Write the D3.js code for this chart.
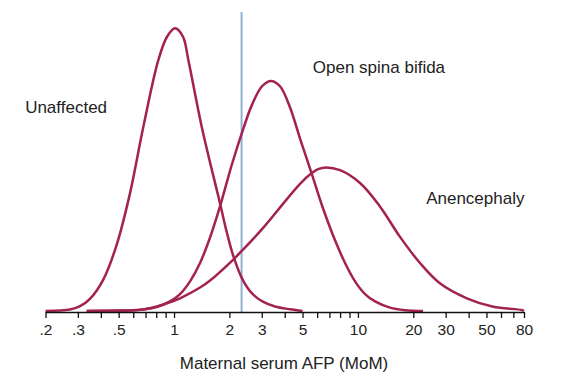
<!DOCTYPE html>
<html lang="en">
<head>
  <meta charset="UTF-8">
  <title>Maternal serum AFP</title>
  <script src="https://d3js.org/d3.v7.min.js"></script>
  <style>
    body { margin: 0; background: #fff; }
    text { font-family: "Liberation Sans", Arial, sans-serif; fill: #222; }
  </style>
</head>
<body>
<script>
  // Distribution curves: [MoM, relative height]
  const unaffected = [
    [0.2, 0], [0.272, 0.5], [0.308, 1.7], [0.349, 4.3], [0.413, 11.2], [0.488, 23.5],
    [0.576, 41.6], [0.681, 65.2], [0.822, 88.8], [0.916, 97], [1.013, 100],
    [1.119, 97], [1.196, 88.8], [1.414, 65.2], [1.778, 38.1], [1.942, 27.5],
    [2.1, 19.5], [2.364, 11], [2.656, 6.2], [3.06, 3.2], [3.541, 1.6], [4.274, 0.6],
    [5, 0]
  ];
  const spinaBifida = [
    [0.335, 0], [0.5085, 0.15], [0.653, 0.4], [0.805, 1.4], [0.951, 3.4], [1.078, 6],
    [1.222, 10.5], [1.385, 17], [1.57, 26], [1.778, 37], [2.067, 52], [2.382, 64.5],
    [2.656, 73], [3.01, 79.5], [3.37, 81.4], [3.77, 79.5], [4.274, 72], [4.844, 61],
    [5.61, 48.5], [6.485, 36], [7.508, 25], [8.51, 17], [9.643, 10.5], [10.93, 6],
    [12.39, 3.4], [14.95, 1.2], [18.04, 0.3], [22.6, 0]
  ];
  const anencephaly = [
    [0.335, 0], [0.653, 0.4], [0.74, 1], [0.913, 2.7], [1.078, 4.5], [1.385, 8.3],
    [1.57, 10.8], [2.1, 18.2], [2.38, 21.8], [3.06, 29.5], [4.1, 39.5], [4.844, 45],
    [5.61, 48.8], [6.067, 50.2], [6.71, 50.8], [8.0, 49.8], [10.3, 45.2], [13.2, 36.9],
    [16.9, 26.3], [21.8, 16.9], [27.9, 9.8], [39.1, 4.5], [54.5, 1.5], [77.6, 0.35],
    [80, 0]
  ];
  const cutoff = 2.33;

  const tickValues = [0.2, 0.3, 0.4, 0.5, 0.6, 0.7, 0.8, 0.9, 1, 2, 3, 4, 5, 6, 7, 8, 9,
    10, 20, 30, 40, 50, 60, 70, 80];
  const tickLabels = { 0.2: ".2", 0.3: ".3", 0.5: ".5", 1: "1", 2: "2", 3: "3", 5: "5",
    10: "10", 20: "20", 30: "30", 50: "50", 80: "80" };

  const curveLabels = [
    { text: "Unaffected", x: 0.155, y: 70 },
    { text: "Open spina bifida", x: 5.68, y: 84.1 },
    { text: "Anencephaly", x: 23.5, y: 37.9 }
  ];

  const W = 574, H = 388;
  const svg = d3.select("body").append("svg").attr("width", W).attr("height", H);

  const x = d3.scaleLog().domain([0.2, 80]).range([45.5, 524]);
  const y = d3.scaleLinear().domain([0, 100]).range([311, 28.3]);

  const line = d3.line()
    .x(d => x(d[0]))
    .y(d => y(d[1]))
    .curve(d3.curveCatmullRom.alpha(0.5));

  // cutoff line
  svg.append("line")
    .attr("x1", x(cutoff)).attr("x2", x(cutoff))
    .attr("y1", 12).attr("y2", 312)
    .attr("stroke", "#8eb0d6").attr("stroke-width", 2);

  svg.selectAll("path.curve")
    .data([unaffected, spinaBifida, anencephaly])
    .join("path")
    .attr("class", "curve")
    .attr("d", line)
    .attr("fill", "none")
    .attr("stroke", "#a3224f")
    .attr("stroke-width", 2.5);

  // axis
  const axis = d3.axisBottom(x)
    .tickValues(tickValues)
    .tickSize(6)
    .tickSizeOuter(0)
    .tickFormat(d => tickLabels[d] || "");

  const gx = svg.append("g")
    .attr("transform", "translate(0,312)")
    .call(axis);
  gx.select(".domain").attr("stroke", "#111").attr("stroke-width", 1.6);
  gx.selectAll(".tick line").attr("stroke", "#111").attr("stroke-width", 1.3);
  gx.selectAll(".tick text")
    .attr("y", 12)
    .attr("font-size", 15.5)
    .attr("font-family", "Liberation Sans, Arial, sans-serif")
    .attr("fill", "#222");

  svg.append("text")
    .attr("x", 284).attr("y", 369)
    .attr("text-anchor", "middle")
    .attr("font-size", 17)
    .text("Maternal serum AFP (MoM)");

  svg.selectAll("text.lbl")
    .data(curveLabels)
    .join("text")
    .attr("class", "lbl")
    .attr("x", d => x(d.x))
    .attr("y", d => y(d.y))
    .attr("font-size", 17)
    .text(d => d.text);
</script>
</body>
</html>
